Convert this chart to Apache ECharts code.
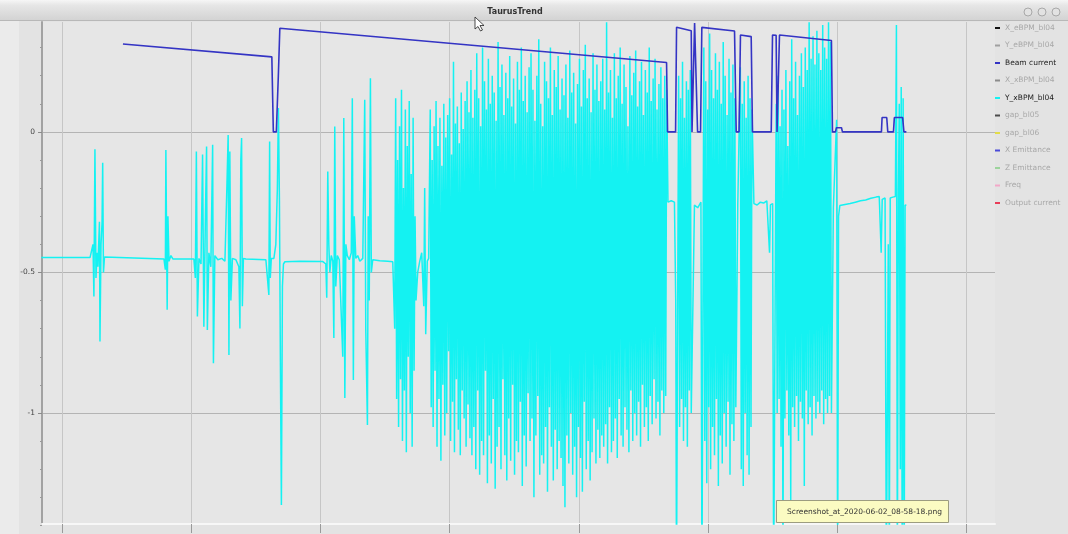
<!DOCTYPE html>
<html><head><meta charset="utf-8">
<script src="https://cdn.jsdelivr.net/npm/echarts@6/dist/echarts.min.js"></script>
<style>html,body{margin:0;padding:0;background:#e3e3e3;}#c{width:1068px;height:534px;}</style>
</head><body><div id="c"></div>
<script>
// ---- legend / series names ----
const seriesNames = ['X_eBPM_bl04','Y_eBPM_bl04','Beam current','X_xBPM_bl04','Y_xBPM_bl04','gap_bl05','gap_bl06','X Emittance','Z Emittance','Freq','Output current'];
const seriesColors = ['#111111','#a0a0a0','#3434c4','#8c8c8c','#14f2f2','#4c4c4c','#e2dc48','#4a4ad8','#9cd49c','#f2a8c8','#e83c58'];
const activeNames = ['Beam current','Y_xBPM_bl04'];

// ---- Beam current  [t, value] ----
const beamCurrent = [
 [47.18,0.313],[162.41,0.267],[163.57,0],[165.89,0],[167.44,0.20],[168.60,0.369],
 [467.90,0.247],[468.68,0],[474.87,0],[475.64,0.372],[487.0,0.360],[487.6,0],[488.8,0],
 [489.6,0.387],[491.1,0.385],[491.9,0],[494.2,0],[495.2,0.372],[520.5,0.359],[521.8,0],
 [524.0,0],[525.1,0.345],[533.4,0.339],[534.4,0],[548.9,0],[549.9,0.345],[552.7,0.344],
 [553.4,0],[554.5,0],[555.3,0.345],[595.5,0.325],[596.3,0],[598.6,0],[599.4,0.015],
 [603.3,0.015],[604.0,0],[634.2,0],[634.7,0.051],[638.3,0.051],[639.1,0],[643.5,0],
 [644.2,0.051],[650.6,0.051],[651.6,0],[653.5,0]
];

// ---- Y_xBPM_bl04 : quiet stretches as [t, value] ----
const xbpmQuiet1 = [
 [-16,-0.447],[21.7,-0.447],[23.2,-0.45],[24.0,-0.40],[24.7,-0.586],[25.5,-0.062],[26.3,-0.52],
 [27.1,-0.43],[27.8,-0.48],[29.0,-0.32],[29.4,-0.746],[30.2,-0.40],[31.0,-0.324],[31.5,-0.11],
 [32.1,-0.50],[32.9,-0.445],[78.9,-0.452],[80.0,-0.49],[80.4,-0.064],[81.0,-0.40],[81.4,-0.633],
 [82.0,-0.30],[82.8,-0.46],[84.3,-0.44],[85.8,-0.452],[102.1,-0.452],[103.2,-0.52],[104.0,-0.07],
 [104.8,-0.657],[106.0,-0.45],[107.6,-0.47],[108.8,-0.08],[109.8,-0.693],[111.0,-0.30],[111.9,-0.052],
 [112.5,-0.705],[113.7,-0.43],[115.2,-0.48],[116.6,-0.046],[117.2,-0.823],[118.3,-0.44],[120.6,-0.455],
 [123.7,-0.45],[126.1,-0.46],[127.6,-0.20],[128.6,-0.011],[129.2,-0.794],[129.9,-0.07],[130.7,-0.60],
 [131.9,-0.45],[134.6,-0.455],[136.9,-0.48],[137.7,-0.699],[138.4,-0.10],[139.0,-0.022],[139.6,-0.62],
 [140.4,-0.45],[142.3,-0.452],[157.8,-0.455],[159.3,-0.46],[160.1,-0.58],[160.7,-0.034],[161.2,-0.52],
 [162.0,-0.45],[164.0,-0.45],[165.5,-0.40],[166.7,-0.20],[167.5,0.085],[168.3,-0.25],[169.0,-0.80],
 [169.8,-1.327],[170.6,-0.55],[171.4,-0.47],[172.5,-0.462],[184.1,-0.460],[201.9,-0.4615],
 [204.2,-0.47],[204.9,-0.59],[205.7,-0.141],[206.5,-0.40],[207.3,-0.50],[208.4,-0.44],[209.6,-0.46],
 [210.4,-0.733],[211.1,0.019],[211.9,-0.55],[213.1,-0.44],[214.6,-0.455],[215.8,-0.46],[217.3,-0.80],
 [218.1,0.049],[218.9,-0.947],[219.7,-0.40],[220.8,-0.44],[222.4,-0.455],[223.9,-0.43],[224.7,0.12],
 [225.5,-0.883],[226.2,-0.30],[227.4,-0.45],[228.9,-0.44],[230.5,-0.46],[232.8,-0.45],[234.3,0.114],
 [235.1,-0.70],[236.4,-1.043],[237.0,-0.30],[237.8,-0.60],[238.7,0.191],[239.4,-0.50],[240.5,-0.455],
 [245.9,-0.458],[252.1,-0.46],[256.0,-0.462]
];
const xbpmGap1 = [[275.3,-0.50],[276.9,-0.46],[278.4,-0.43],[280.0,-0.62],[280.7,-0.20],[281.5,-0.72],[282.7,-0.46],[283.8,-0.45]];
const xbpmGap2 = [[469.0,-0.25],[471.5,-0.245],[474.0,-0.25],[475.0,-0.60],[475.6,-1.6]];
const xbpmGap3 = [[489.5,-0.26],[492.0,-0.27],[494.5,-0.25],[495.3,-1.6]];
const xbpmGap4 = [[523.0,-0.262],[524.3,-0.26]];
const xbpmGap5 = [[535.5,-0.255],[538.0,-0.26],[540.5,-0.25],[543.0,-0.253],[545.5,-0.245],[547.0,-0.25],[547.6,-0.43],[548.3,-0.26],[550.0,-0.255],[550.8,-1.6]];
const xbpmTail = [
 [597.0,-0.27],[598.5,-0.265],[599.5,0.043],[600.3,-1.6],[601.0,-0.30],[602.0,-0.262],[606.0,-0.258],
 [610.0,-0.255],[614.0,-0.25],[618.0,-0.245],[622.0,-0.242],[626.0,-0.236],[630.0,-0.232],[632.5,-0.23],
 [634.0,-0.43],[634.8,-0.24],[637.0,-0.235],[638.0,-1.6],[639.5,-0.40],[640.3,-1.6],[641.0,-0.235],
 [643.0,-0.232],[645.0,-0.23],[645.8,0.38],[646.5,-1.6],[647.3,-0.24],[648.0,0.10],[648.8,-1.2],
 [649.5,0.16],[650.3,-1.6],[651.0,0.12],[651.8,-1.6],[652.5,-0.26],[653.5,-0.262]
];

// ---- Y_xBPM_bl04 : dense bursts, one value every BURST_STEP from the start time ----
const BURST_STEP = 0.75;
const burstAStart = 257.5;
const burstA = [-0.70,0.12,-0.95,-0.10,-1.05,0.02,-0.88,0.15,-1.10,-0.20,-0.92,0.08,-1.14,-0.05,-0.80,0.11,-1.00,-0.15,-1.12,0.05,-0.85,-0.30,-0.60];
const burstBStart = 285.0;
const burstB = [
 0.08,-0.98,-0.10,-1.05,0.02,-0.85,0.11,-1.12,-0.05,-0.95,
 0.05,-1.17,-0.12,-0.90,0.10,-1.08,-0.02,-1.00,0.06,-0.78,
 0.12,-1.10,-0.08,-0.96,0.25,-1.14,0.03,-0.88,0.09,-1.06,
 -0.04,-1.15,0.14,-0.92,0.01,-1.02,0.11,-1.12,0.18,-0.97,
 0.07,-1.09,
 0.22,-1.15,0.05,-1.05,0.15,-1.20,0.28,-0.92,0.12,-1.22,
 0.02,-1.10,0.30,-1.15,0.18,-0.85,0.08,-1.25,0.26,-1.08,
 0.10,-1.18,0.20,-0.95,0.14,-1.27,0.04,-1.12,0.32,-1.05,
 0.16,-1.20,0.24,-0.88,0.06,-1.15,0.21,-1.24,0.12,-1.02,
 0.27,-1.17,0.09,-0.90,0.19,-1.22,0.03,-1.10,0.25,-1.14,
 0.15,-0.96,0.30,-1.26,0.11,-1.08,0.20,-1.19,0.07,-0.93,
 0.23,
 -1.10,0.28,-1.02,0.15,-1.30,0.04,-1.08,0.20,-0.94,0.33,
 -1.22,0.10,-1.15,0.02,-1.18,0.25,-1.05,0.18,-1.28,0.12,
 -0.98,0.30,-1.12,0.06,-1.24,0.22,-1.06,0.16,-1.20,0.27,
 -1.10,0.08,-1.16,0.19,-1.26,0.13,-1.335,0.24,-1.08,0.05,
 -1.18,0.29,-1.00,0.14,-1.22,0.21,-1.12,0.03,-1.30,0.17,
 -1.05,0.26,-1.16,0.09,-1.28,0.22,-0.96,0.31,-1.20,0.12,
 -1.10,0.19,-1.24,0.07,-1.14,0.28,-1.02,0.15,-1.18,0.24,
 -1.06,0.11,
 -1.16,0.18,-1.08,0.26,-1.12,0.08,-1.04,0.39,-1.18,0.14,
 -0.98,0.22,-1.14,0.05,-1.10,0.28,-1.02,0.12,-1.16,0.20,
 -0.95,0.30,-1.08,0.10,-1.12,0.24,-0.98,0.16,-1.06,0.02,
 -1.14,0.27,-0.92,0.13,-1.10,0.21,-1.00,0.29,-1.08,0.09,
 -0.96,0.18,-1.12,0.25,-0.90,0.06,-1.05,0.22,-0.98,0.14,
 -1.10,0.30,-0.94,0.11,-1.04,0.19,-0.88,0.26,-1.02,0.08,
 -0.96,0.17,-1.08,0.23,-0.92,0.12,-1.00,0.20,-0.94,0.15
];
const burstCStart = 476.5;
const burstC = [-1.6,0.20,-1.05,0.12,-0.95,0.25,-1.10,0.05,-0.98,0.18,-1.12,0.15,-0.92,0.22,-1.00];
const burstDStart = 496.0;
const burstD = [
 -1.6,0.30,-1.10,0.18,-1.25,0.08,-0.98,0.35,-1.20,0.22,
 -1.05,0.12,-1.15,0.28,-0.95,0.15,-1.26,0.25,-1.08,0.10,
 -1.18,0.32,-1.00,0.20,-1.12,0.06,-0.96,0.26,-1.22,0.14,
 -1.04,0.24,-1.10,0.12,-0.98
];
const burstEStart = 525.0;
const burstE = [0.23,-1.20,0.10,-1.26,0.18,-1.00,0.05,-1.15,0.20,-1.22,0.12,-1.05,0.08];
const burstFStart = 552.0;
const burstF = [
 -1.6,0.10,-1.00,0.20,-0.95,0.02,-1.12,0.15,-1.6,0.08,
 -1.02,0.22,-0.92,-0.05,-1.08,0.18,-1.31,0.33,-0.98,0.12,
 -1.05,0.25,-0.94,0.06,-1.10,0.20,-0.96,0.28,-1.02,0.16,
 -1.26,0.30,-0.92,0.22,-1.04,0.39,-0.98,0.26,-1.08,0.34,
 -0.94,0.24,-1.02,0.36,-0.96,0.28,-1.00,0.22,-0.92,0.38,
 -1.04,0.30,-0.95,0.26,-1.00,0.39,-0.94,0.32,-1.00
];

// ---- assemble the Y_xBPM_bl04 series ----
const xbpmData = [];
function addPairs(p){ p.forEach(d => xbpmData.push(d)); }
function addBurst(t0, vals){ vals.forEach((v,i) => xbpmData.push([t0 + i*BURST_STEP, v])); }
addPairs(xbpmQuiet1); addBurst(burstAStart, burstA); addPairs(xbpmGap1);
addBurst(burstBStart, burstB); addPairs(xbpmGap2); addBurst(burstCStart, burstC);
addPairs(xbpmGap3); addBurst(burstDStart, burstD); addPairs(xbpmGap4);
addBurst(burstEStart, burstE); addPairs(xbpmGap5); addBurst(burstFStart, burstF);
addPairs(xbpmTail);

const FONT = 'DejaVu Sans';
const chart = echarts.init(document.getElementById('c'), null, {renderer:'canvas'});

const series = seriesNames.map((n,i) => {
  let data = [];
  let width = 1;
  let z = 2;
  if (n === 'Beam current') { data = beamCurrent; width = 1.6; z = 4; }
  if (n === 'Y_xBPM_bl04') { data = xbpmData; width = 1.5; z = 3; }
  return {
    name: n, type: 'line', xAxisIndex: 0, yAxisIndex: 0, data: data,
    symbol: 'none', showSymbol: false, clip: true, z: z, animation: false,
    lineStyle: {color: seriesColors[i], width: width},
    itemStyle: {color: seriesColors[i]}
  };
});

const option = {
  backgroundColor: '#e3e3e3',
  animation: false,
  grid: [
    {left: 42, right: 73, top: 22, bottom: 10, show: true, backgroundColor: '#e6e6e6', borderWidth: 0, outerBoundsMode: 'none'},
    {left: 62, right: 101.5, top: 22, bottom: 10, outerBoundsMode: 'none'},
    {left: 42, right: 73, top: -8.6, bottom: -19.5, outerBoundsMode: 'none'}
  ],
  xAxis: [
    {gridIndex: 0, type: 'value', min: -15.47, max: 722.09,
     axisLine: {show: true, onZero: false, lineStyle: {color: '#f7f7f7', width: 2}},
     axisTick: {show: false}, axisLabel: {show: false}, splitLine: {show: false}},
    {gridIndex: 1, type: 'value', min: 0, max: 700, interval: 100,
     axisLine: {show: false, onZero: false},
     axisTick: {show: true, length: 9, lineStyle: {color: '#9a9a9a'}},
     axisLabel: {show: false},
     splitLine: {show: true, lineStyle: {color: '#c6c6c6', width: 1}}},
    {gridIndex: 2, type: 'value', show: false, min: 0, max: 1}
  ],
  yAxis: [
    {gridIndex: 0, type: 'value', min: -1.395, max: 0.391,
     axisLine: {show: true, onZero: false, lineStyle: {color: '#a2a2a2', width: 2}},
     axisTick: {show: false}, axisLabel: {show: false}, splitLine: {show: false}},
    {gridIndex: 1, type: 'value', show: false, min: 0, max: 1},
    {gridIndex: 2, type: 'value', min: -1.5, max: 0.5, interval: 0.5,
     axisLine: {show: false, onZero: false},
     axisTick: {show: true, length: 4, lineStyle: {color: '#8a8a8a'}},
     minorTick: {show: true, splitNumber: 5, length: 2, lineStyle: {color: '#9a9a9a'}},
     axisLabel: {show: true, margin: 7, fontSize: 7.5, color: '#444', fontFamily: FONT},
     splitLine: {show: true, lineStyle: {color: '#b4b4b4', width: 1}}}
  ],
  legend: {
    orient: 'vertical', left: 990, top: 19, itemWidth: 5, itemHeight: 2, itemGap: 9.5,
    icon: 'rect', selectedMode: false,
    textStyle: {fontSize: 7.5, color: '#a8a8a8', fontFamily: FONT},
    data: seriesNames.map(n => activeNames.includes(n)
      ? {name: n, textStyle: {color: '#1c1c1c'}}
      : {name: n})
  },
  series: series,
  graphic: [
    {type: 'rect', z: 100, shape: {x: 0, y: 0, width: 1068, height: 21},
     style: {fill: {type: 'linear', x: 0, y: 0, x2: 0, y2: 1,
       colorStops: [{offset: 0, color: '#f6f6f6'}, {offset: 0.25, color: '#e6e6e6'}, {offset: 1, color: '#d2d2d2'}]}}},
    {type: 'line', z: 100, shape: {x1: 0, y1: 20.5, x2: 1068, y2: 20.5}, style: {stroke: '#b8b8b8', lineWidth: 1}},
    {type: 'text', z: 101, x: 515, y: 12, style: {text: 'TaurusTrend', fontSize: 8, fontWeight: 'bold',
      fontFamily: FONT, fill: '#333', align: 'center', verticalAlign: 'middle'}},
    {type: 'circle', z: 101, shape: {cx: 1028, cy: 12, r: 4}, style: {fill: '#e2e2e2', stroke: '#a8a8a8', lineWidth: 1}},
    {type: 'circle', z: 101, shape: {cx: 1042, cy: 12, r: 4}, style: {fill: '#e2e2e2', stroke: '#a8a8a8', lineWidth: 1}},
    {type: 'circle', z: 101, shape: {cx: 1056, cy: 12, r: 4}, style: {fill: '#e2e2e2', stroke: '#a8a8a8', lineWidth: 1}},
    {type: 'rect', z: 1, shape: {x: 0, y: 21, width: 19, height: 513}, style: {fill: '#ebebeb'}},
    {type: 'polygon', z: 102, shape: {points: [[475,17],[475,29],[478,26.5],[480.5,31],[482.5,30],[480,25.5],[484,25.5]]},
     style: {fill: '#ffffff', stroke: '#222', lineWidth: 0.8}},
    {type: 'rect', z: 100, shape: {x: 776.5, y: 500.5, width: 172, height: 22},
     style: {fill: '#fbfbc2', stroke: '#9c9c80', lineWidth: 1}},
    {type: 'text', z: 101, x: 787, y: 512, style: {text: 'Screenshot_at_2020-06-02_08-58-18.png', fontSize: 7.5,
      fontFamily: FONT, fill: '#333', align: 'left', verticalAlign: 'middle'}}
  ]
};
chart.setOption(option);
</script>
</body></html>
